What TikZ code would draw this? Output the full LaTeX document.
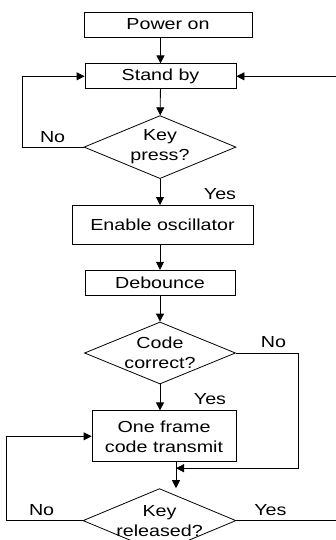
\documentclass[tikz,border=0pt]{standalone}
\usepackage{fontspec}
\setmainfont{Liberation Sans}[FakeStretch=1.23]
\usetikzlibrary{shapes.geometric, arrows.meta, positioning}
\tikzstyle{process} = [rectangle, minimum height=25pt, inner sep=0pt, text centered, draw=black, line width=0.8pt, font=\fontsize{16}{20}\selectfont]
\tikzstyle{decision} = [diamond, aspect=2.4, minimum width=152pt, minimum height=63pt, inner xsep=-20pt, inner ysep=0pt, align=center, draw=black, line width=0.8pt, font=\fontsize{16}{20}\selectfont]
\tikzstyle{answer} = [inner sep=0pt, font=\fontsize{16}{20}\selectfont]
\tikzstyle{arrow} = [line width=0.8pt,-{Triangle[length=8pt,width=8pt]}]
\tikzstyle{wire} = [line width=0.8pt]

\begin{document}
\begin{tikzpicture}[node distance=26pt]
\useasboundingbox (0,0) rectangle (336pt,-540pt);

% Nodes
\node (power) [process, minimum width=168pt] at (168pt,-24.5pt) {Power on};
\node (standby) [process, minimum width=151pt, below=26pt of power, xshift=-7.5pt] {Stand by};
\node (keypress) [decision, below=26pt of standby, xshift=-0.5pt] {Key\\press?};
\node (enable) [process, minimum width=181pt, minimum height=39pt, below=26pt of keypress, xshift=2.5pt] {Enable oscillator};
\node (debounce) [process, minimum width=150pt, below=25pt of enable, xshift=-2.5pt] {Debounce};
\node (codeok) [decision, minimum width=151pt, minimum height=62pt, below=26pt of debounce] {Code\\correct?};
\node (transmit) [process, minimum width=144pt, minimum height=51pt, below=26pt of codeok, xshift=4pt, align=center] {One frame\\code transmit};
\node (released) [decision, minimum width=153pt, minimum height=64pt, below=26pt of transmit, xshift=-4.5pt] {Key\\released?};

% Labels
\node (nokey) [answer] at ([shift={(-31pt,10pt)}]keypress.west) {No};
\node (yeskey) [answer] at ([shift={(60pt,-15pt)}]keypress.south) {Yes};
\node (nocode) [answer] at ([shift={(37.5pt,11pt)}]codeok.east) {No};
\node (yescode) [answer] at ([shift={(50pt,-15pt)}]codeok.south) {Yes};
\node (norel) [answer] at ([shift={(-41pt,11pt)}]released.west) {No};
\node (yesrel) [answer] at ([shift={(34pt,11pt)}]released.east) {Yes};

\coordinate (back) at ([xshift=100pt]standby.east);
\coordinate (join) at ([xshift=12pt,yshift=-6pt]transmit.south);
\coordinate (exit) at ([xshift=100pt]released.east);

% Arrows
\draw [arrow] (power.south -| standby) -- (standby);
\draw [arrow] (standby) -- (keypress);
\draw [arrow] (keypress) -- (keypress |- enable.north);
\draw [arrow] (enable.south -| debounce) -- (debounce);
\draw [arrow] (debounce) -- (codeok);
\draw [arrow] (codeok) -- (codeok |- transmit.north);
\draw [arrow] (transmit.south -| join) -- (join |- released.north);

\draw [arrow] (keypress.west) -- ++(-61pt,0) |- (standby.west);
\draw [arrow] (back) -- (standby.east);
\draw [arrow] (codeok.east) -- ++(62pt,0) |- (join);
\draw [arrow] (released.west) -- ++(-76pt,0) |- (transmit.west);
\draw [wire] (released.east) -- (exit);

\end{tikzpicture}
\end{document}
